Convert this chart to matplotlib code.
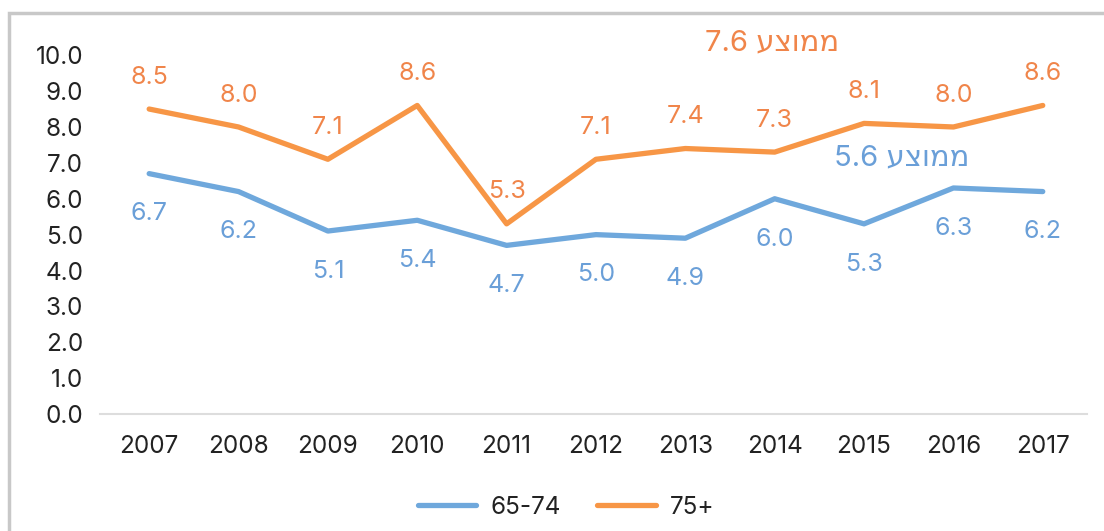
import matplotlib
matplotlib.use("Agg")
import matplotlib.pyplot as plt
from matplotlib.patches import Rectangle

plt.rcParams['font.family'] = ['Inter', 'DejaVu Sans']

years = ["2007", "2008", "2009", "2010", "2011", "2012", "2013", "2014", "2015", "2016", "2017"]
young = [6.7, 6.2, 5.1, 5.4, 4.7, 5.0, 4.9, 6.0, 5.3, 6.3, 6.2]
old = [8.5, 8.0, 7.1, 8.6, 5.3, 7.1, 7.4, 7.3, 8.1, 8.0, 8.6]
series_names = ["65-74", "75+"]
avg_word = "ממוצע"
avg_young = 5.6
avg_old = 7.6

blue = "#6fa8dc"
orange = "#f79646"
blue_txt = "#6a9fd8"
orange_txt = "#f0854a"

fig = plt.figure(figsize=(11.04, 5.31), dpi=100)
ax = fig.add_axes([0.0906, 0.2203, 0.8944, 0.6757])

# outer frame, cut off on the right/bottom like the original
fig.patches.append(Rectangle((9 / 1104, -0.05), 1.2, 1 - 13 / 531 + 0.05,
                             transform=fig.transFigure, fill=False,
                             edgecolor="#c8c8c8", linewidth=2.5))

x = list(range(len(years)))
ax.plot(x, young, color=blue, lw=3.8, solid_capstyle="round", label=series_names[0])
ax.plot(x, old, color=orange, lw=3.8, solid_capstyle="round", label=series_names[1])

for i in x:
    ax.annotate(f"{young[i]:.1f}", (i, young[i]), xytext=(0, -29), textcoords="offset points",
                ha="center", va="center", fontsize=18, color=blue_txt)
    ax.annotate(f"{old[i]:.1f}", (i, old[i]), xytext=(0, 23), textcoords="offset points",
                ha="center", va="center", fontsize=18, color=orange_txt)

# average notes, hebrew in visual order
ax.text(6.97, 10.35, f"{avg_old} " + avg_word[::-1], ha="center", va="center",
        fontsize=21, color=orange_txt)
ax.text(8.42, 7.15, f"{avg_young} " + avg_word[::-1], ha="center", va="center",
        fontsize=21, color=blue_txt)

ax.set_xlim(-0.55, 10.5)
ax.set_ylim(0, 10)
ax.set_yticks(range(11))
ax.set_yticklabels([f"{i:.1f}" for i in range(11)])
ax.set_xticks(x)
ax.set_xticklabels(years)
ax.tick_params(axis="both", length=0, labelsize=17.5, labelcolor="#222222")
ax.tick_params(axis="x", pad=15)
ax.tick_params(axis="y", pad=12)
for s in ["top", "right", "left"]:
    ax.spines[s].set_visible(False)
ax.spines["bottom"].set_color("#dddddd")
ax.spines["bottom"].set_linewidth(1.5)

leg = fig.legend(loc="center", bbox_to_anchor=(0.513, 0.045), ncol=2, frameon=False,
                 fontsize=17.5, handlelength=2.4, columnspacing=1.5, handletextpad=0.6)
for t in leg.get_texts():
    t.set_color("#222222")

fig.savefig("out.png", dpi=100)
